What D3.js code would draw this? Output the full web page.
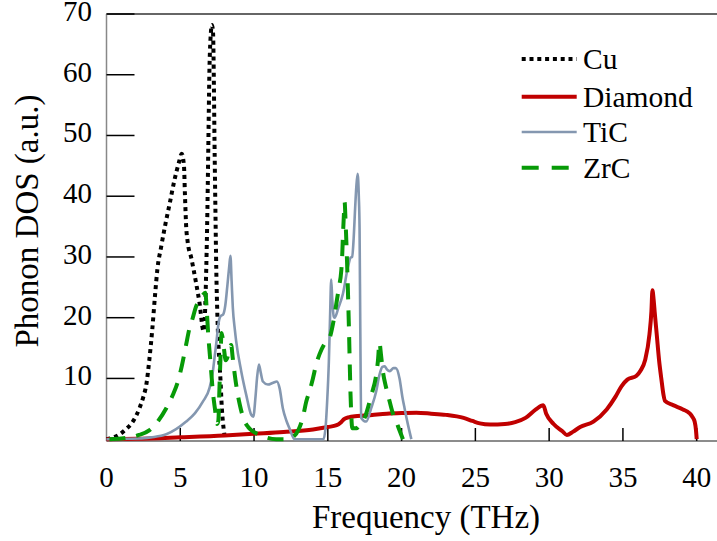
<!DOCTYPE html>
<html><head><meta charset="utf-8">
<script src="https://cdn.jsdelivr.net/npm/d3@7"></script>
</head><body style="margin:0">
<svg id="chart" width="717" height="541" font-family="Liberation Serif"></svg>
<script>
const seriesNames = ["Cu", "Diamond", "TiC", "ZrC"];
const xTicks = [0, 5, 10, 15, 20, 25, 30, 35, 40];
const yTicks = [10, 20, 30, 40, 50, 60, 70];

const cuFreq = [0,0.5,0.9,1.3,1.7,2.0,2.25,2.5,2.7,2.9,3.1,3.3,3.45,3.7,4.0,4.3,4.6,4.9,5.1,5.25,5.32,5.4,5.5,5.75,6.05,6.3,6.58,6.68,6.75,6.82,6.9,6.97,7.05,7.15,7.22,7.28,7.32,7.38,7.44,7.52,7.6,7.72,7.82,7.95,8.05];
const cuDos  = [0,0.3,0.8,1.6,2.6,3.8,5.2,7,9,13,18,24,28,31.6,35.5,39,42.6,45.5,47,45,40,35,32.5,29.8,26,22.5,17.8,21,27,35,48,60,66,68.2,67,58,49,38,28,20,15,10,5,1.5,0];

const diaFreq = [0,2,5,8,10,12,14,15,15.6,15.9,16.1,16.4,17,18,19,20,21,22,23,24.2,24.8,25.3,26,27,27.7,28.4,29.1,29.6,29.8,30.3,30.9,31.2,31.6,32.1,33,33.9,34.5,34.9,35.3,35.9,36.2,36.5,36.8,36.93,37.0,37.08,37.15,37.3,37.45,37.6,37.75,37.85,38.4,39.07,39.5,39.7,39.86,39.95,40.0];
const diaDos  = [0,0.05,0.3,0.6,0.9,1.2,1.6,2.0,2.3,2.8,3.3,3.6,3.8,4.0,4.2,4.3,4.35,4.2,4.0,3.5,3.0,2.6,2.4,2.5,2.8,3.5,4.9,5.6,4.2,2.5,1.3,0.7,1.2,2.0,2.9,4.9,7,8.7,9.8,10.4,11.3,13,17.3,21,24.5,23,21,17,13,10,7.3,6.3,5.6,4.9,4.3,3.7,2.9,1.5,0];

const ticFreq = [0,1,2.24,3,4.05,5.4,6,6.53,6.98,7.2,7.32,7.45,7.55,7.65,7.75,7.9,8.05,8.2,8.32,8.4,8.48,8.56,8.7,8.79,9.13,9.47,9.81,9.95,10.1,10.2,10.33,10.45,10.6,10.94,11.3,11.55,11.73,11.95,12.2,12.4,12.75,14.7,14.85,14.95,15.07,15.15,15.23,15.3,15.4,15.46,15.7,16.02,16.36,16.55,16.65,16.75,16.85,16.93,17.02,17.1,17.15,17.2,17.26,17.6,17.94,18.28,18.5,18.7,18.85,19.0,19.2,19.45,19.6,19.86,20.05,20.2,20.43,20.66];
const ticDos  = [0,0.05,0.1,0.3,0.8,2.9,4.3,6.2,8.4,11,13.4,16,18.3,19.8,20.3,20.5,22,25.5,28.5,30.2,26,21.7,18,16.1,11.2,7.3,4,3.7,7,10,12.3,11,9.5,9,9.3,9.5,8.4,5.1,3,1.8,0,0,2,6,12.8,20,26.3,23,20.2,20,21.5,23.9,28.3,29.9,30,33,38,41.5,43.7,40,34.9,18.3,3.5,2.9,5.1,7.9,10.6,11.9,12,11.5,11.2,11.7,11.7,10,7,5.1,2.4,0];

const zrcFreq = [0.2,1.0,1.56,2.2,2.92,3.5,4.05,4.5,4.84,5.1,5.4,5.6,5.85,6.05,6.3,6.55,6.7,6.8,6.9,7.0,7.1,7.2,7.35,7.5,7.58,7.65,7.72,7.8,7.88,7.98,8.08,8.2,8.33,8.45,8.55,8.7,8.85,9.05,9.3,9.6,9.9,10.4,10.8,11.5,12.2,12.6,13.0,13.3,13.54,13.76,13.99,14.2,14.44,14.8,15.12,15.35,15.57,15.75,15.91,15.97,16.02,16.08,16.14,16.2,16.3,16.43,16.54,16.66,16.93,17.2,17.49,17.95,18.28,18.4,18.5,18.6,18.73,18.95,19.19,19.4,19.64,19.85,20.09];
const zrcDos  = [0,0.1,0.3,0.7,1.5,3,5.1,7.3,9.5,12,15.6,18,20,21.7,22.8,23.8,24.1,21,17,14,11,8,5,2.5,3,8,13,17.5,16.5,14.5,13,13.5,15,15.5,13.5,10.5,8,5.5,3.3,2,1.3,0.7,0.3,0,0,0.3,1.5,3.5,6.2,7.9,10,12.2,14,15.8,16.7,19,22.2,25,27.7,30,33.2,36.5,39,36,29.4,18.3,7.3,1.8,1.8,2.5,3.5,7.3,10.6,13,15.9,14,11.2,8.5,6.2,4.3,2.9,1.5,0];

const seriesFreq = [cuFreq, diaFreq, ticFreq, zrcFreq];
const seriesDos = [cuDos, diaDos, ticDos, zrcDos];

const colors = ["#000000", "#c00000", "#8497b0", "#079a07"];
const widths = [4, 4, 2.6, 4];
const dashes = ["4,4", null, null, "16,11"];

const svg = d3.select("#chart");
function txt(sel) { return sel.style("font-family", '"Liberation Serif", "Times New Roman", serif', "important"); }

const x = d3.scaleLinear().domain([0, 40]).range([106.5, 696.7]);
const y = d3.scaleLinear().domain([-0.3, 70]).range([441, 14]);

// top frame line
svg.append("line").attr("x1", x(0)).attr("x2", 717).attr("y1", y(70)).attr("y2", y(70))
  .attr("stroke", "#333").attr("stroke-width", 1.5);

// y axis
svg.append("line").attr("x1", x(0)).attr("x2", x(0)).attr("y1", y(70)).attr("y2", y(-0.3))
  .attr("stroke", "#888").attr("stroke-width", 1.5);
svg.selectAll(".ytick").data(yTicks).enter().append("line")
  .attr("x1", x(0)).attr("x2", x(0) + 28).attr("y1", d => y(d)).attr("y2", d => y(d))
  .attr("stroke", "#000").attr("stroke-width", 1.5);
txt(svg.selectAll(".ylab").data(yTicks).enter().append("text")
  .attr("x", 92).attr("y", d => y(d) + 7).attr("text-anchor", "end")
  .attr("font-size", 29).text(d => d));

// x axis
svg.append("line").attr("x1", x(0)).attr("x2", 717).attr("y1", y(-0.3)).attr("y2", y(-0.3))
  .attr("stroke", "#666").attr("stroke-width", 1.5);
svg.selectAll(".xtick").data(xTicks.filter(d => d > 0)).enter().append("line")
  .attr("x1", d => x(d)).attr("x2", d => x(d)).attr("y1", y(-0.3)).attr("y2", y(-0.3) - 13)
  .attr("stroke", "#000").attr("stroke-width", 1.5);
txt(svg.selectAll(".xlab").data(xTicks).enter().append("text")
  .attr("x", d => x(d)).attr("y", 487).attr("text-anchor", "middle")
  .attr("font-size", 29).text(d => d));

// axis titles
txt(svg.append("text").attr("x", 426).attr("y", 528).attr("text-anchor", "middle")
  .attr("font-size", 33).text("Frequency (THz)"));
txt(svg.append("text").attr("transform", "translate(38,221) rotate(-90)").attr("text-anchor", "middle")
  .attr("font-size", 33).text("Phonon DOS (a.u.)"));

// curves
const line = d3.line().x(d => x(d[0])).y(d => y(d[1])).curve(d3.curveMonotoneX);
seriesNames.forEach((name, i) => {
  const pts = seriesFreq[i].map((f, j) => [f, seriesDos[i][j]]);
  const p = svg.append("path").datum(pts).attr("d", line)
    .attr("fill", "none").attr("stroke", colors[i]).attr("stroke-width", widths[i])
    .attr("stroke-linejoin", "round");
  if (dashes[i]) p.attr("stroke-dasharray", dashes[i]);
});

// legend
const legY = [59, 96.7, 132, 167.7];
seriesNames.forEach((name, i) => {
  const l = svg.append("line").attr("x1", 521.7).attr("x2", 576.7)
    .attr("y1", legY[i]).attr("y2", legY[i])
    .attr("stroke", colors[i]).attr("stroke-width", widths[i]);
  if (dashes[i]) l.attr("stroke-dasharray", i === 3 ? "17,13" : "4,3.8");
  txt(svg.append("text").attr("x", 583).attr("y", legY[i] + 10)
    .attr("font-size", 29.5).text(name));
});
</script>
</body></html>
